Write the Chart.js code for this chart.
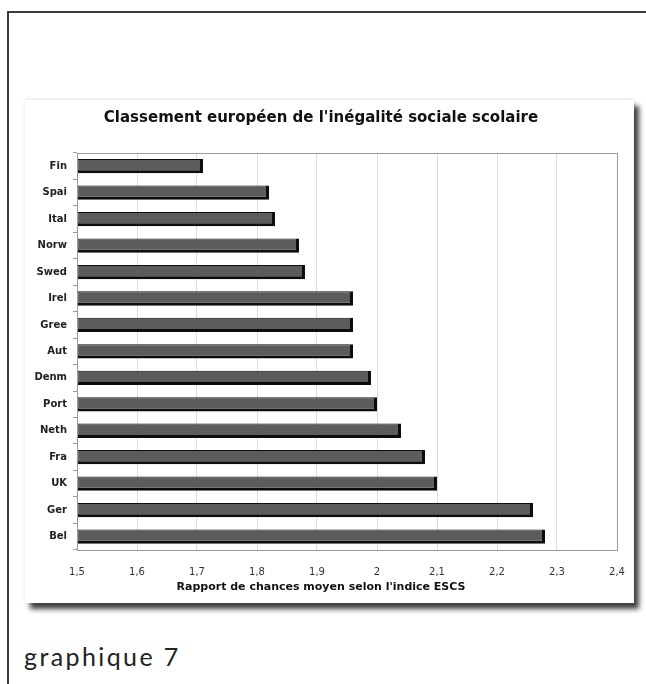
<!DOCTYPE html>
<html>
<head>
<meta charset="utf-8">
<script src="https://cdn.jsdelivr.net/npm/chart.js@4.4.1/dist/chart.umd.min.js"></script>
<style>
  html, body { margin: 0; padding: 0; background: #fff; }
  body { width: 646px; height: 684px; position: relative; overflow: hidden; }
  #frame { position: absolute; left: 7px; top: 11px; width: 700px; height: 700px;
           border-left: 2px solid #3a3a3a; border-top: 2px solid #3a3a3a; }
  #card { position: absolute; left: 25px; top: 100px; width: 609px; height: 503px;
          background: #fff; box-shadow: 5px 6px 5px rgba(0,0,0,0.75), 0 -1px 3px rgba(0,0,0,0.12); }
  #card canvas { position: absolute; left: 0; top: 0; }
  #caption { position: absolute; left: 24px; top: 641px; font-family: Lato, sans-serif;
             font-size: 25px; letter-spacing: 2.4px; color: #222; }
</style>
</head>
<body>
<div id="frame"></div>
<div id="card"><canvas id="chart" width="609" height="503"></canvas></div>
<div id="caption">graphique 7</div>
<script>
// Countries, top to bottom
const countries = ['Fin', 'Spai', 'Ital', 'Norw', 'Swed', 'Irel', 'Gree', 'Aut',
                   'Denm', 'Port', 'Neth', 'Fra', 'UK', 'Ger', 'Bel'];
// Average odds ratio by ESCS index
const oddsRatio = [1.71, 1.82, 1.83, 1.87, 1.88, 1.96, 1.96, 1.96,
                   1.99, 2.00, 2.04, 2.08, 2.10, 2.26, 2.28];
// Axis range and tick labels
const axisMin = 1.5;
const axisMax = 2.4;
const tickStep = 0.1;

const titleText = "Classement européen de l'inégalité sociale scolaire";
const axisTitleText = "Rapport de chances moyen selon l'indice ESCS";

// Frame around the plotting area
const plotBorder = {
  id: 'plotBorder',
  afterDraw(chart) {
    const { ctx, chartArea: a } = chart;
    ctx.save();
    ctx.strokeStyle = '#9a9a9a';
    ctx.lineWidth = 1;
    ctx.strokeRect(Math.round(a.left) + 0.5, Math.round(a.top) + 0.5,
                   Math.round(a.right - a.left), Math.round(a.bottom - a.top));
    ctx.restore();
  }
};

new Chart(document.getElementById('chart'), {
  type: 'bar',
  data: {
    labels: countries,
    datasets: [{
      data: oddsRatio,
      base: axisMin,
      backgroundColor: '#5c5c5c',
      borderColor: '#0d0d0d',
      borderWidth: { top: 1, left: 1, right: 3, bottom: 3 },
      borderSkipped: false,
      categoryPercentage: 1,
      barPercentage: 0.54
    }]
  },
  plugins: [plotBorder],
  options: {
    indexAxis: 'y',
    responsive: false,
    animation: false,
    layout: { padding: { left: 0, right: 17, top: 0, bottom: 0 } },
    plugins: {
      legend: { display: false },
      tooltip: { enabled: false },
      title: {
        display: true,
        text: titleText,
        color: '#111',
        font: { family: 'DejaVu Sans', size: 15, weight: 'bold' },
        padding: { top: 9, bottom: 26 }
      },
      // x-axis caption, centred under the whole chart
      subtitle: {
        display: true,
        position: 'bottom',
        text: axisTitleText,
        color: '#111',
        font: { family: 'DejaVu Sans', size: 11, weight: 'bold' },
        padding: { top: 0, bottom: 9 }
      }
    },
    scales: {
      x: {
        type: 'linear',
        min: axisMin,
        max: axisMax,
        ticks: {
          stepSize: tickStep,
          padding: 17,
          color: '#333',
          font: { family: 'DejaVu Sans', size: 10 },
          callback: (v) => String(Math.round(v * 10) / 10).replace('.', ',')
        },
        grid: { color: '#dcdcdc', drawTicks: false, lineWidth: 1 },
        border: { display: false },
        afterFit(scale) {
          scale.height = 31;
          scale.paddingLeft = 0;
          scale.paddingRight = 0;
        }
      },
      y: {
        ticks: {
          padding: 6,
          color: '#222',
          font: { family: 'DejaVu Sans', size: 10, weight: 'bold' }
        },
        grid: { drawOnChartArea: false, drawTicks: true, tickLength: 4, color: '#9a9a9a' },
        border: { color: '#9a9a9a' },
        afterFit(scale) { scale.width = 52; }
      }
    }
  }
});
</script>
</body>
</html>
